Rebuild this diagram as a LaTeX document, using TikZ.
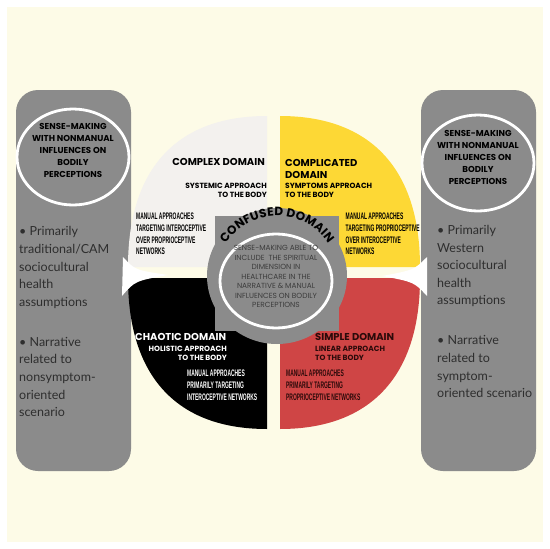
\documentclass[tikz,border=0pt]{standalone}
\usepackage{fontspec}
\setmainfont{Lato}
\newfontfamily\headfont{Poppins}
\newfontfamily\condfont[FakeStretch=0.52]{Liberation Sans}
\usetikzlibrary{decorations.text}
\definecolor{cream}{HTML}{FDFBE7}
\definecolor{panelgray}{HTML}{8B8B8B}
\definecolor{complexwhite}{HTML}{F3F1EE}
\definecolor{compyellow}{HTML}{FDD835}
\definecolor{simplered}{HTML}{CF4545}
\definecolor{inkgray}{HTML}{2E2E2E}
\definecolor{darkred}{HTML}{2B0A0A}
\definecolor{centerink}{HTML}{3C3C3C}

\begin{document}
\begin{tikzpicture}[x=1pt, y=-1pt,
  panel/.style={fill=panelgray, rounded corners=22pt},
  ring/.style={draw=white, line width=2.8pt},
  circhead/.style={font=\headfont\bfseries\fontsize{8.6}{12}\selectfont, align=center, anchor=north, inner sep=0pt, text=black},
  bullets/.style={font=\fontsize{12.5}{17.6}\selectfont, align=left, anchor=north west, inner sep=0pt, text=inkgray},
  domhead/.style={font=\headfont\bfseries\fontsize{10}{12}\selectfont, inner sep=0pt},
  approach/.style={font=\headfont\bfseries\fontsize{7.5}{8.8}\selectfont, inner sep=0pt},
  manual/.style={font=\condfont\bfseries\fontsize{9.5}{11.9}\selectfont, align=left, anchor=north west, inner sep=0pt}]
  % background
  \fill[white] (0,0) rectangle (550,549);
  \fill[cream] (7,7) rectangle (543,542);
  \useasboundingbox (0,0) rectangle (550,549);
  % side panels
  \fill[panel] (16,90) rectangle (131,471);
  \fill[panel] (421,90) rectangle (536,471);
  \draw[ring] (73,157) ellipse [x radius=56, y radius=48];
  \draw[ring] (478,163) ellipse [x radius=56, y radius=48];
  % the four domains (squarish quarters)
  \fill[complexwhite] (267,267) -- (128,267) .. controls (128,168.8) and (176.6,116) .. (267,116) -- cycle;
  \fill[compyellow] (280,267) -- (280,116) .. controls (370.4,116) and (420,168.8) .. (420,267) -- cycle;
  \fill[simplered] (280,278) -- (420,278) .. controls (420,376.2) and (370.4,429) .. (280,429) -- cycle;
  \fill[black] (267,278) -- (267,429) .. controls (176.6,429) and (128,376.2) .. (128,278) -- cycle;
  % white pointers from the panels
  \fill[white] (123,257) .. controls (135,270) .. (168,275) .. controls (135,281) .. (122,296) -- cycle;
  \fill[white] (427,257) .. controls (414,270) .. (382,276) .. controls (414,282) .. (427,296) -- cycle;
  % confused domain in the middle
  \fill[panelgray] (215,216) rectangle (339,331);
  \fill[panelgray] (277,276) ellipse [x radius=70, y radius=68];
  \draw[ring] (276,281) ellipse [x radius=56, y radius=47];
  \path[decorate, decoration={text along path, text align={fit to path},
      text={|\headfont\bfseries\fontsize{12}{12}\selectfont|CONFUSED DOMAIN}}]
    (225.8,243.8) arc[start angle=213, end angle=327, radius=61];
  \node[font=\headfont\fontsize{7.4}{9.5}\selectfont, align=center, anchor=north, inner sep=0pt, text=centerink] (confusedtext) at (276,245.4)
    {SENSE-MAKING ABLE TO\\INCLUDE\ \ THE SPIRITUAL\\DIMENSION IN\\HEALTHCARE IN THE\\NARRATIVE \& MANUAL\\INFLUENCES ON BODILY\\PERCEPTIONS};
  % panel texts
  \node[circhead] (leftcirc) at (73,123) {SENSE-MAKING\\WITH NONMANUAL\\INFLUENCES ON\\BODILY\\PERCEPTIONS};
  \node[circhead] (rightcirc) at (478,130) {SENSE-MAKING\\WITH NONMANUAL\\INFLUENCES ON\\BODILY\\PERCEPTIONS};
  \node[bullets] (leftlist) at (19,226.5) {• Primarily\\traditional/CAM\\sociocultural\\health\\assumptions\\[22.4pt]• Narrative\\related to\\nonsymptom-\\oriented\\scenario};
  \node[bullets] (rightlist) at (437,225) {• Primarily\\Western\\sociocultural\\health\\assumptions\\[22.4pt]• Narrative\\related to\\symptom-\\oriented scenario};
  % complex
  \node[domhead, anchor=base east] (complex) at (265,165.5) {COMPLEX DOMAIN};
  \node[approach, align=right, anchor=north east] (complexsub) at (267,183.3) {SYSTEMIC APPROACH\\TO THE BODY};
  \node[manual] (complexman) at (136,212.4) {MANUAL APPROACHES\\TARGETING INTEROCEPTIVE\\OVER PROPRIOCEPTIVE\\NETWORKS};
  % complicated
  \node[domhead, align=left, anchor=north west] (complicated) at (285,158.7) {COMPLICATED\\DOMAIN};
  \node[approach, align=left, anchor=north west] (complicatedsub) at (285,183.3) {SYMPTOMS APPROACH\\TO THE BODY};
  \node[manual] (complicatedman) at (345.5,212.4) {MANUAL APPROACHES\\TARGETING PROPRIOCEPTIVE\\OVER INTEROCEPTIVE\\NETWORKS};
  % chaotic
  \node[domhead, anchor=base west, text=white] (chaotic) at (135,340.2) {CHAOTIC DOMAIN};
  \node[approach, align=right, anchor=north east, text=white] (chaoticsub) at (227,345.8) {HOLISTIC APPROACH\\TO THE BODY};
  \node[manual, text=white] (chaoticman) at (187,369.6) {MANUAL APPROACHES\\PRIMARILY TARGETING\\INTEROCEPTIVE NETWORKS};
  % simple
  \node[domhead, anchor=base west, text=darkred] (simple) at (315,340.2) {SIMPLE DOMAIN};
  \node[approach, align=left, anchor=north west, text=darkred] (simplesub) at (315,345.8) {LINEAR APPROACH\\TO THE BODY};
  \node[manual, text=darkred] (simpleman) at (286,369.6) {MANUAL APPROACHES\\PRIMARILY TARGETING\\PROPRIOCEPTIVE NETWORKS};
\end{tikzpicture}
\end{document}
